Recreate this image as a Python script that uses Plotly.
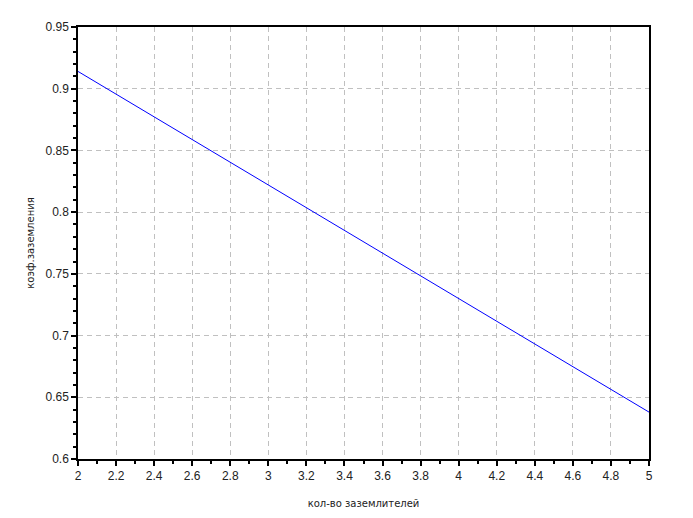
import plotly.graph_objects as go

x_vals = [2, 3, 4, 5]
y_vals = [0.914, 0.822, 0.730, 0.638]
x_label = "кол-во заземлителей"
y_label = "коэф.заземления"

fig = go.Figure()
fig.add_trace(go.Scatter(x=x_vals, y=y_vals, mode="lines",
                         line=dict(color="#0000ff", width=1), showlegend=False))

axis_common = dict(
    showline=True, linecolor="#000000", linewidth=1.5, mirror=True,
    ticks="outside", ticklen=5, tickcolor="#000000", tickwidth=1.5,
    showgrid=True, gridcolor="#c0c0c0", griddash="5px,4px", gridwidth=1,
    zeroline=False,
    tickfont=dict(family="Liberation Sans, Arial", size=12, color="#222222"),
)

title_font = dict(family="DejaVu Sans", size=10, color="#222222")

fig.update_layout(
    width=693, height=518,
    paper_bgcolor="white", plot_bgcolor="white",
    margin=dict(l=70, r=52, t=19, b=67),
    xaxis=dict(range=[2, 5], dtick=0.2, tick0=2,
               minor=dict(dtick=0.1, ticks="outside", ticklen=3, tickcolor="#000000", showgrid=False),
               title=dict(text=x_label, font=title_font, standoff=18),
               **axis_common),
    yaxis=dict(range=[0.6, 0.95], dtick=0.05, tick0=0.6,
               minor=dict(dtick=0.01, ticks="outside", ticklen=3, tickcolor="#000000", showgrid=False),
               title=dict(text=y_label, font=title_font, standoff=9),
               **axis_common),
)

fig.write_html("out.html")
